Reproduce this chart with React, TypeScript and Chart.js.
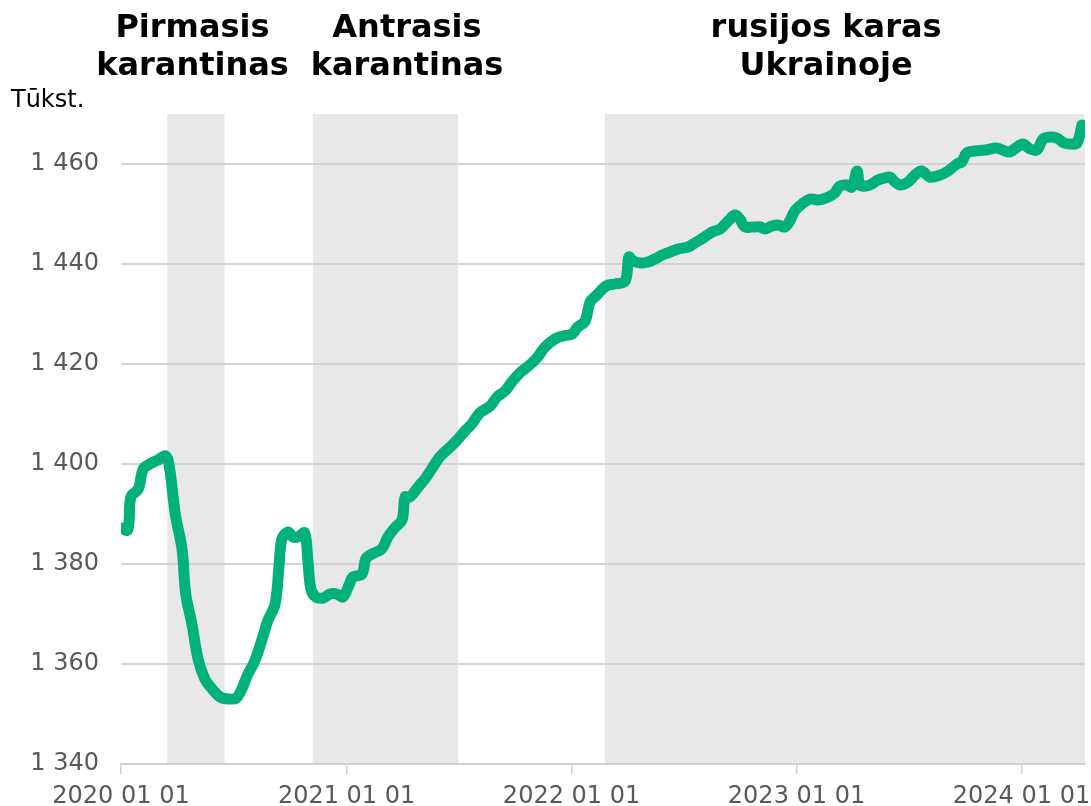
import React, { useEffect, useRef } from "react";
import { Chart, registerables } from "chart.js";

Chart.register(...registerables);

const dates: string[] = [
  "2020-01-01","2020-01-12","2020-01-17","2020-01-29","2020-02-06","2020-02-17","2020-03-01","2020-03-14",
  "2020-03-20","2020-03-29","2020-04-09","2020-04-15","2020-04-25","2020-05-05","2020-05-16","2020-05-28",
  "2020-06-10","2020-06-23","2020-07-06","2020-07-15","2020-07-25","2020-08-05","2020-08-17","2020-08-26",
  "2020-09-07","2020-09-13","2020-09-18","2020-09-28","2020-10-06","2020-10-14","2020-10-25","2020-10-30",
  "2020-11-04","2020-11-12","2020-11-24","2020-12-05","2020-12-16","2020-12-26","2021-01-05","2021-01-11",
  "2021-01-26","2021-02-01","2021-02-11","2021-02-27","2021-03-09","2021-03-20","2021-04-01","2021-04-06",
  "2021-04-14","2021-04-27","2021-05-08","2021-05-19","2021-06-01","2021-06-18","2021-07-01","2021-07-12",
  "2021-07-23","2021-08-05","2021-08-22","2021-09-02","2021-09-15","2021-09-26","2021-10-09","2021-10-25",
  "2021-11-07","2021-11-19","2021-12-05","2021-12-18","2022-01-02","2022-01-11","2022-01-23","2022-01-31",
  "2022-02-11","2022-02-26","2022-03-12","2022-03-29","2022-04-04","2022-04-11","2022-04-22","2022-05-05",
  "2022-05-16","2022-05-28","2022-06-10","2022-06-23","2022-07-09","2022-07-20","2022-08-05","2022-08-17",
  "2022-08-30","2022-09-12","2022-09-23","2022-10-01","2022-10-09","2022-10-21","2022-11-03","2022-11-11",
  "2022-11-22","2022-12-02","2022-12-13","2022-12-21","2022-12-29","2023-01-10","2023-01-23","2023-02-05",
  "2023-02-18","2023-03-04","2023-03-12","2023-03-24","2023-04-01","2023-04-09","2023-04-14","2023-04-24",
  "2023-05-03","2023-05-13","2023-05-24","2023-06-01","2023-06-10","2023-06-18","2023-07-01","2023-07-12",
  "2023-07-23","2023-08-05","2023-08-22","2023-09-04","2023-09-18","2023-09-26","2023-10-04","2023-10-17",
  "2023-11-03","2023-11-22","2023-12-05","2023-12-13","2023-12-23","2024-01-03","2024-01-15","2024-01-26",
  "2024-02-05","2024-02-16","2024-02-27","2024-03-10","2024-03-20","2024-03-31","2024-04-08",
];

const values: number[] = [
  1387.2,1386.8,1393.4,1395,1399,1400,1400.8,1401.6,
  1399,1390,1383,1374,1368,1361,1357,1355,
  1353.4,1353,1353.2,1355,1358,1360.6,1365,1368.6,
  1372,1379,1385,1386.4,1385.4,1385.4,1386.2,1381,
  1375,1373.4,1373.2,1374,1374,1373.4,1375.8,1377.4,
  1378,1381,1382,1383,1385.4,1387.2,1388.8,1393.4,
  1393.4,1395.4,1397,1399,1401.4,1403.4,1405,1406.6,
  1408,1410.2,1411.6,1413.4,1414.6,1416.4,1418.2,1419.8,
  1421.4,1423.4,1425,1425.6,1426,1427.4,1428.6,1432.4,
  1433.8,1435.6,1436,1436.6,1441.4,1440.6,1440.2,1440.4,
  1441,1441.8,1442.4,1443,1443.4,1444.2,1445.4,1446.4,
  1447,1448.6,1449.8,1449,1447.4,1447.4,1447.4,1447,
  1447.6,1447.8,1447.4,1448.6,1450.6,1452,1453,1452.8,
  1453.2,1454.2,1455.6,1455.8,1455.4,1458.6,1455.8,1455.6,
  1456,1456.8,1457.2,1457.4,1456.4,1455.8,1456.4,1457.8,
  1458.6,1457.4,1457.8,1458.6,1460,1460.4,1462.2,1462.6,
  1462.8,1463.2,1462.6,1462.4,1463.2,1464,1463,1462.8,
  1465,1465.4,1465.2,1464.2,1464,1464.2,1467.8,
];

const periodStarts: string[] = ["2020-03-16", "2020-11-07", "2022-02-24"];
const periodEnds: string[] = ["2020-06-17", "2021-07-01", "2024-04-13"];
const periodTitles: string[][] = [
  ["Pirmasis", "karantinas"],
  ["Antrasis", "karantinas"],
  ["rusijos karas", "Ukrainoje"],
];
const titleCenters: string[] = ["2020-04-26", "2021-04-09", "2023-02-18"];

const yTicks: number[] = [1340, 1360, 1380, 1400, 1420, 1440, 1460];
const xTickDates: string[] = ["2020-01-01", "2021-01-01", "2022-01-01", "2023-01-01", "2024-01-01"];
const xMin = "2020-01-01";
const xMax = "2024-04-13";
const yMin = 1340;
const yMax = 1470;
const unitLabel = "Tūkst.";

const ts = (s: string) => {
  const [y, m, d] = s.split("-").map(Number);
  return Date.UTC(y, m - 1, d);
};

const FONT = "'DejaVu Sans', Verdana, sans-serif";

export default function App() {
  const ref = useRef<HTMLCanvasElement | null>(null);

  useEffect(() => {
    if (!ref.current) return;

    const bandsPlugin = {
      id: "bands",
      beforeDraw(chart: any) {
        const { ctx, chartArea, scales } = chart;
        const xs = scales.x;
        ctx.save();
        ctx.fillStyle = "#e8e8e8";
        periodStarts.forEach((s, i) => {
          const x0 = xs.getPixelForValue(ts(s));
          const x1 = xs.getPixelForValue(ts(periodEnds[i]));
          ctx.fillRect(x0, chartArea.top, x1 - x0, chartArea.bottom - chartArea.top);
        });
        ctx.restore();
      },
      afterDraw(chart: any) {
        const { ctx, scales } = chart;
        const xs = scales.x;
        ctx.save();
        ctx.fillStyle = "#000000";
        ctx.textAlign = "center";
        ctx.textBaseline = "middle";
        ctx.font = `bold 32px ${FONT}`;
        periodTitles.forEach((lines, i) => {
          const cx = xs.getPixelForValue(ts(titleCenters[i]));
          lines.forEach((ln, j) => {
            ctx.fillText(ln, cx, 29 + j * 38);
          });
        });
        ctx.font = `24px ${FONT}`;
        ctx.textAlign = "left";
        ctx.fillText(unitLabel, 11, 101);
        ctx.restore();
      },
    };

    const chart = new Chart(ref.current, {
      type: "line",
      data: {
        datasets: [
          {
            data: dates.map((d, i) => ({ x: ts(d), y: values[i] })),
            borderColor: "#00b27a",
            borderWidth: 11,
            pointRadius: 0,
            tension: 0.35,
            borderCapStyle: "round",
            borderJoinStyle: "round",
            fill: false,
          },
        ],
      },
      options: {
        animation: false,
        responsive: true,
        maintainAspectRatio: false,
        layout: { padding: { top: 114, right: 6, left: 0, bottom: 0 } },
        plugins: {
          legend: { display: false },
          tooltip: { enabled: false },
          title: { display: false },
        },
        scales: {
          x: {
            type: "linear",
            min: ts(xMin),
            max: ts(xMax),
            afterBuildTicks(axis: any) {
              axis.ticks = xTickDates.map((d) => ({ value: ts(d) }));
            },
            afterFit(axis: any) {
              axis.height = 42;
              axis.paddingLeft = 0;
              axis.paddingRight = 0;
            },
            grid: {
              drawOnChartArea: false,
              drawTicks: true,
              tickLength: 10,
              color: "#d0d0d0",
              lineWidth: 1.5,
            },
            border: { display: true, color: "#d0d0d0", width: 2 },
            ticks: {
              autoSkip: false,
              maxRotation: 0,
              padding: 8,
              color: "#595959",
              font: { family: FONT, size: 24 },
              callback: (v: any) => {
                const d = new Date(Number(v));
                const y = d.getUTCFullYear();
                const m = String(d.getUTCMonth() + 1).padStart(2, "0");
                const dd = String(d.getUTCDate()).padStart(2, "0");
                return `${y} ${m} ${dd}`;
              },
            },
          },
          y: {
            min: yMin,
            max: yMax,
            afterBuildTicks(axis: any) {
              axis.ticks = yTicks.map((v) => ({ value: v }));
            },
            afterFit(axis: any) {
              axis.width = 121;
              axis.paddingTop = 0;
              axis.paddingBottom = 0;
            },
            grid: {
              drawTicks: false,
              color: (c: any) => (c.tick && c.tick.value === yMin ? "rgba(0,0,0,0)" : "#d3d3d3"),
              lineWidth: 2,
            },
            border: { display: false },
            ticks: {
              padding: 22,
              color: "#595959",
              font: { family: FONT, size: 24 },
              callback: (v: any) => {
                const s = String(v);
                return s.length > 3 ? s.slice(0, s.length - 3) + " " + s.slice(-3) : s;
              },
            },
          },
        },
      },
      plugins: [bandsPlugin],
    } as any);

    return () => chart.destroy();
  }, []);

  return (
    <div style={{ position: "absolute", left: 0, top: 0, width: 1091, height: 806 }}>
      <canvas ref={ref} />
    </div>
  );
}
